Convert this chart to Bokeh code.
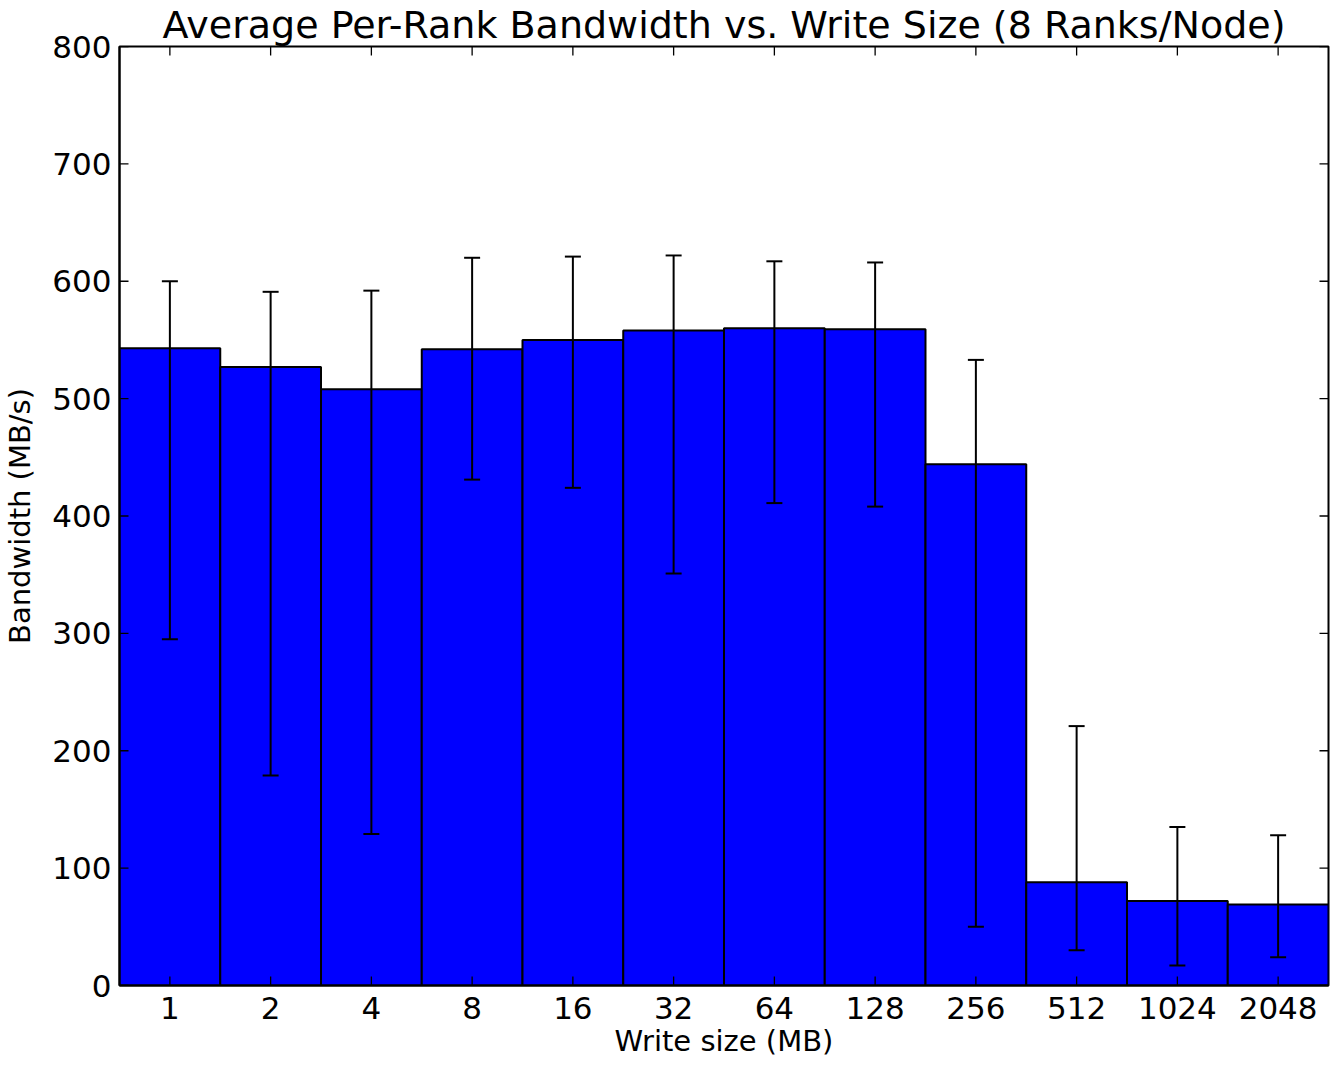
import math
from bokeh.plotting import figure
from bokeh.models import (ColumnDataSource, FactorRange, Range1d, Whisker, TeeHead, Title,
                          SingleIntervalTicker)
from bokeh.embed import file_html
from bokeh.resources import INLINE

sizes = ["1", "2", "4", "8", "16", "32", "64", "128", "256", "512", "1024", "2048"]
bandwidth = [543, 527, 508, 542, 550, 558, 560, 559, 444, 88, 72, 69]
err_upper = [600, 591, 592, 620, 621, 622, 617, 616, 533, 221, 135, 128]
err_lower = [295, 179, 129, 431, 424, 351, 411, 408, 50, 30, 17, 24]
y_ticks = [0, 100, 200, 300, 400, 500, 600, 700, 800]

FONT = "DejaVu Sans"

src = ColumnDataSource(dict(x=sizes, top=bandwidth, upper=err_upper, lower=err_lower))

p = figure(width=1330, height=1071, output_backend="svg", toolbar_location=None,
           x_range=FactorRange(factors=sizes, range_padding=0),
           y_range=Range1d(y_ticks[0], y_ticks[-1]), title=None,
           min_border_left=119, min_border_right=2, min_border_top=44, min_border_bottom=86)

t = Title(text="Average Per-Rank Bandwidth vs. Write Size (8 Ranks/Node)",
          text_font=FONT, text_font_size="38px", text_font_style="normal",
          text_color="black", align="center", standoff=0, offset=0)
p.add_layout(t, "above")

p.vbar(x="x", top="top", width=1.0, source=src, fill_color="#0000ff",
       line_color="black", line_width=2)

# inward tick marks on all four sides (clipped to the frame, so only the inner half shows)
tick_kw = dict(marker="dash", size=18, line_color="black", line_width=1.3)
p.scatter(x=sizes, y=[y_ticks[0]] * len(sizes), angle=math.pi / 2, **tick_kw)
p.scatter(x=sizes, y=[y_ticks[-1]] * len(sizes), angle=math.pi / 2, **tick_kw)
p.scatter(x=[[sizes[0], -0.5]] * len(y_ticks), y=y_ticks, **tick_kw)
p.scatter(x=[[sizes[-1], 0.5]] * len(y_ticks), y=y_ticks, **tick_kw)

w = Whisker(base="x", upper="upper", lower="lower", source=src, line_color="black",
            line_width=2, level="overlay",
            upper_head=TeeHead(size=16, line_width=2, line_color="black"),
            lower_head=TeeHead(size=16, line_width=2, line_color="black"))
p.add_layout(w)

p.xgrid.visible = False
p.ygrid.visible = False
p.outline_line_color = "black"
p.outline_line_width = 2

for ax in p.xaxis + p.yaxis:
    ax.major_tick_in = 0
    ax.major_tick_out = 0
    ax.minor_tick_in = 0
    ax.minor_tick_out = 0
    ax.axis_line_width = 2
    ax.major_label_text_font = FONT
    ax.major_label_text_font_size = "31px"
    ax.major_label_text_color = "black"
    ax.axis_label_text_font = FONT
    ax.axis_label_text_font_size = "29px"
    ax.axis_label_text_font_style = "normal"
    ax.axis_label_text_color = "black"

p.yaxis.ticker = SingleIntervalTicker(interval=100, num_minor_ticks=0)
p.yaxis.major_label_standoff = 8
p.yaxis.axis_label = "Bandwidth (MB/s)"
p.yaxis.axis_label_standoff = 12
p.xaxis.major_label_standoff = 11

# x-axis title as a title panel below the axis
xt = Title(text="Write size (MB)", text_font=FONT, text_font_size="29px",
           text_font_style="normal", text_color="black", align="center",
           standoff=0, offset=0, text_line_height=1.5)
p.add_layout(xt, "below")

open("out.html", "w").write(file_html(p, INLINE))
